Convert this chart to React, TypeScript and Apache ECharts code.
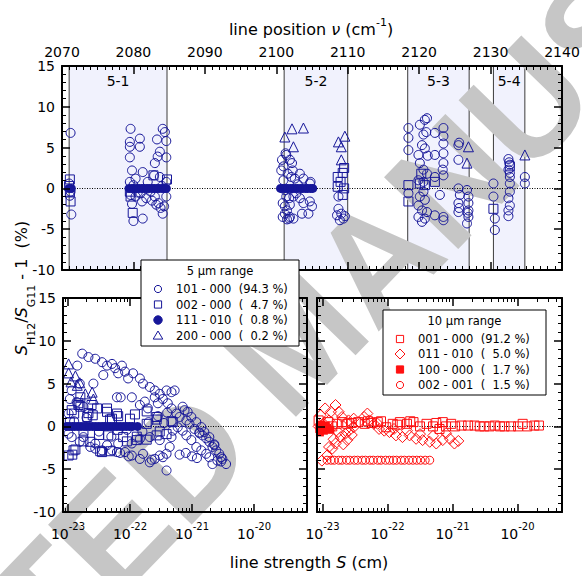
import React, { useEffect, useRef } from "react";
import * as echarts from "echarts";

const FONT = "DejaVu Sans";
const BLUE = "#161699";
const RED = "#ff1010";
const SHADE = "#f1f2fd";

// ---------- top panel: line position (cm-1) ----------
const positionMin = 2070;
const positionMax = 2140;
const lineRegions = [
  { name: "5-1", from: 2071.0, to: 2084.7 },
  { name: "5-2", from: 2101.1, to: 2110.0 },
  { name: "5-3", from: 2118.4, to: 2127.0 },
  { name: "5-4", from: 2130.4, to: 2134.8 },
];

const top101_000: [number, number][] = [
  [2071.2, 6.8], [2071.3, -3.2], [2071.1, -0.9], [2071.0, 0.6], [2071.2, -0.4],
  [2079.6, 7.3], [2079.5, 5.7], [2079.5, 5.1], [2080.9, 6.1], [2080.9, 5.1], [2079.5, 3.8],
  [2079.8, 2.2], [2081.3, 2.0], [2080.3, 1.2], [2079.5, 0.8], [2080.0, 0.4], [2080.6, -0.5],
  [2079.6, -0.8], [2080.3, -1.0], [2079.8, -1.9], [2081.2, -1.6], [2080.0, -4.0], [2081.3, -3.7],
  [2082.0, 0.8], [2082.4, -0.4], [2082.9, 1.6], [2083.0, 3.1], [2083.4, 3.9], [2083.7, 4.5],
  [2083.3, 6.0], [2084.1, 7.3], [2084.4, 6.9], [2084.6, 5.8], [2084.6, 3.8], [2083.7, 1.4],
  [2084.6, 0.8], [2084.0, 0.3], [2083.0, -1.0], [2083.2, -2.0], [2083.5, -1.8], [2083.8, -2.4],
  [2084.1, -3.1], [2084.6, -1.0], [2084.3, -2.2], [2082.6, -1.5], [2081.8, -1.2], [2081.0, -0.6],
  [2100.8, 3.5], [2101.0, 2.7], [2101.0, 1.0], [2101.3, 4.3], [2101.2, -0.2], [2101.8, -1.2],
  [2100.9, -1.8], [2101.5, -2.7], [2100.9, -3.5], [2101.8, -3.7], [2102.4, -3.7], [2102.2, 3.1],
  [2101.4, 4.1], [2101.9, 3.5], [2102.3, 2.2], [2102.1, 1.4], [2102.6, 1.2], [2103.3, 1.8],
  [2103.8, 1.2], [2104.7, 0.6], [2101.4, -1.0], [2102.4, -1.0], [2101.2, -2.2], [2101.9, -2.0],
  [2103.3, -1.2], [2103.8, -1.8], [2104.7, -1.6], [2104.5, -3.1], [2103.6, -3.1], [2101.2, -3.1],
  [2101.9, -3.5], [2101.5, -3.8], [2104.8, 0.8], [2105.0, -2.2], [2102.8, -0.6], [2103.0, 0.5],
  [2100.7, 2.2], [2101.6, 1.8],
  [2108.7, -1.0], [2108.7, -2.5], [2109.1, -3.1], [2109.4, -3.7], [2108.9, -3.9], [2108.5, -3.3],
  [2109.6, -3.4],
  [2118.5, 7.4], [2118.5, 6.2], [2118.5, 4.7], [2118.5, -0.6],
  [2120.1, 7.8], [2120.8, 8.4], [2121.1, 8.6], [2120.6, 6.6], [2120.4, 5.3], [2120.8, 4.9],
  [2119.9, 4.1], [2120.1, 3.1], [2120.6, 2.3], [2119.9, 1.0], [2121.1, 1.8], [2120.6, 0.8],
  [2120.1, -1.0], [2120.8, -1.4], [2119.9, -2.1], [2120.4, -2.7], [2121.1, -2.9], [2119.9, -3.5],
  [2120.4, -4.1], [2120.8, -3.7], [2120.6, -0.4], [2121.0, 6.9], [2121.2, 4.0],
  [2122.2, 6.8], [2123.4, 7.4], [2123.4, 6.4], [2123.4, 5.5], [2122.2, 4.1], [2123.4, 4.3],
  [2123.4, 3.1], [2123.4, 1.6], [2122.2, 1.4], [2122.9, -0.8], [2122.2, -3.3], [2123.4, -3.5],
  [2123.4, -3.9], [2123.3, 2.3],
  [2125.5, 5.3], [2125.5, 3.5], [2125.5, 0.0], [2125.7, -0.8], [2125.5, -1.8], [2125.5, -2.9],
  [2126.7, -0.2], [2126.9, -1.0], [2126.9, -1.8], [2126.9, -2.7], [2126.9, -3.5], [2126.7, -4.3],
  [2125.6, 5.6], [2125.6, -2.4], [2126.8, -3.0],
  [2130.4, 0.6], [2130.4, -1.0], [2130.6, -3.7], [2130.6, -5.1],
  [2132.5, 3.6], [2132.7, 2.9], [2132.5, 2.3], [2132.7, 1.4], [2132.7, 0.6], [2132.7, -0.4],
  [2132.5, -1.2], [2132.7, -2.1], [2132.5, -2.7], [2132.5, -3.4], [2132.6, 3.2], [2132.7, 1.9],
  [2134.8, 1.4], [2134.8, 0.6],
];

const top002_000: [number, number][] = [
  [2071.1, 1.1], [2071.0, 0.3], [2071.1, -0.4], [2071.2, -1.6],
  [2079.5, -0.4], [2079.6, -1.0], [2079.9, -3.0], [2082.8, 1.6], [2084.7, 1.1],
  [2108.6, 1.4], [2109.5, 2.5], [2108.6, 0.2], [2109.5, 0.0], [2109.3, -0.8], [2109.0, 0.8],
  [2109.3, 1.9],
  [2118.5, 0.4], [2118.5, -1.6], [2120.1, 0.6], [2120.8, 0.4], [2120.3, 1.8], [2122.2, 0.8],
  [2130.4, -2.5], [2132.7, 2.7],
];

const top111_010: [number, number][] = [
  [2071.0, 0], [2071.3, 0],
  [2079.4, 0], [2079.8, 0], [2080.1, 0], [2080.5, 0], [2080.8, 0], [2081.2, 0], [2081.5, 0],
  [2081.9, 0], [2082.2, 0], [2082.6, 0], [2082.9, 0], [2083.3, 0], [2083.6, 0], [2084.0, 0],
  [2084.3, 0], [2084.6, 0],
  [2100.6, 0], [2100.9, 0], [2101.3, 0], [2101.6, 0], [2102.0, 0], [2102.3, 0], [2102.7, 0],
  [2103.0, 0], [2103.4, 0], [2103.7, 0], [2104.1, 0], [2104.4, 0], [2104.8, 0], [2105.1, 0],
];

const top200_000: [number, number][] = [
  [2101.2, 6.3], [2102.2, 7.3], [2102.4, 5.1], [2103.8, 7.4],
  [2108.7, 5.7], [2109.6, 6.4], [2109.1, 5.1], [2109.1, 3.5],
  [2126.9, 5.1], [2126.7, 3.1], [2134.8, 4.1],
];

// ---------- bottom-left: 5 um range vs log10(line strength) ----------
const strengthExponents = [-23, -22, -21, -20];

const bl101_000: [number, number][] = [
  [-22.77, 8.5], [-22.67, 8.1], [-22.56, 7.9], [-22.45, 7.5], [-22.37, 7.1], [-22.29, 7.3],
  [-22.24, 6.8], [-22.13, 7.1], [-22.08, 6.4], [-22.03, 5.6], [-21.95, 6.2], [-21.84, 5.6],
  [-21.79, 5.0], [-21.68, 4.6], [-21.60, 4.2], [-21.52, 3.8], [-21.41, 4.2], [-21.33, 4.0],
  [-21.28, 4.2], [-22.85, 7.1], [-22.81, 5.0], [-22.59, 5.0], [-22.43, 6.0], [-22.19, 6.2],
  [-22.21, 3.4], [-22.15, 3.4], [-21.97, 3.4], [-21.84, 2.5], [-21.76, 2.9], [-21.71, 2.1],
  [-21.60, 3.4], [-21.55, 2.7], [-21.47, 3.2], [-21.39, 2.7], [-21.33, 2.1], [-21.25, 1.5],
  [-21.20, 1.1], [-21.12, 1.9], [-21.09, 0.7], [-21.04, 0.3], [-20.96, -0.3], [-20.88, -0.7],
  [-20.83, -1.05], [-20.77, -1.4], [-20.72, -1.8], [-20.67, -2.4], [-20.61, -2.8], [-20.56, -3.2],
  [-20.51, -3.8], [-20.45, -4.4], [-20.53, -4.1], [-20.59, -4.0], [-20.67, -4.4], [-20.72, -3.6],
  [-20.77, -3.2], [-20.85, -2.8], [-20.93, -2.4], [-21.01, -1.6], [-21.09, -1.05], [-21.15, -0.5],
  [-21.23, -0.1], [-21.31, -0.5], [-21.33, -1.25], [-21.36, -2.4], [-21.41, -3.2], [-21.47, -3.6],
  [-21.52, -3.4], [-21.60, -3.8], [-21.68, -4.2], [-21.79, -3.2], [-21.84, -3.8], [-21.97, -3.4],
  [-22.08, -3.0], [-22.21, -3.0], [-22.29, -2.8], [-22.45, -2.8], [-22.56, -2.6], [-22.64, -2.4],
  [-21.41, -5.15], [-20.53, -3.6], [-20.64, -2.2], [-20.72, -1.25], [-20.80, -0.66], [-20.85, -0.08],
  [-20.93, 0.5], [-21.01, 1.1], [-21.07, 1.7], [-21.15, 2.3],
  [-22.99, -0.86], [-22.94, -1.25], [-22.81, -1.8], [-22.75, -1.25], [-22.56, -2.0], [-22.37, -2.2],
  [-22.19, -2.0], [-21.97, -2.0], [-21.84, -1.45], [-21.68, -1.25], [-21.52, -1.6], [-22.97, 3.2],
  [-22.94, 4.2], [-22.86, 2.85], [-22.75, 2.3], [-22.99, 1.5], [-22.90, 0.6], [-22.70, 1.0],
  [-22.50, -0.6], [-22.30, -1.2], [-22.05, -0.4], [-21.80, -0.6], [-21.70, 0.5], [-21.45, 0.4],
  [-21.40, 1.6], [-21.55, 1.2], [-22.16, -3.1], [-22.02, -3.5], [-21.65, -3.9], [-21.20, -3.3],
  [-21.10, -3.1], [-21.00, -3.5], [-20.92, -3.7], [-20.88, -0.8], [-20.64, -2.1],
];

const bl002_000: [number, number][] = [
  [-22.99, -3.4], [-22.93, -3.3], [-22.91, -2.8], [-22.88, -2.7], [-22.83, 2.7], [-22.83, 2.5],
  [-22.80, 2.3], [-22.80, 3.4], [-22.69, 1.1], [-22.67, 1.55], [-22.75, -0.5], [-22.75, -1.75],
  [-22.64, -1.8], [-22.60, 1.3], [-22.53, 2.1], [-22.50, -1.0], [-22.48, -2.9], [-22.45, -3.0],
  [-22.37, 1.7], [-22.37, 2.1], [-22.35, -1.05], [-22.32, -2.9], [-22.32, 0.8], [-22.29, 0.9],
  [-22.21, 1.5], [-22.20, -0.4], [-22.19, 1.2], [-22.11, -1.25], [-22.05, -1.75], [-22.00, 0.9],
  [-21.92, 1.4], [-21.89, -1.2], [-21.89, -1.6], [-21.73, 0.3], [-21.73, -1.55], [-21.73, 1.75],
  [-21.57, -1.05], [-21.57, 0.8], [-21.57, 1.1], [-21.52, -0.6], [-21.41, -0.9], [-21.33, 0.6],
  [-21.31, 0.5], [-22.94, 1.9], [-22.90, 1.5], [-22.97, 0.5], [-22.62, 2.5],
];

const bl111_010: [number, number][] = [
  [-23.02, 0], [-22.98, 0], [-22.93, 0], [-22.89, 0], [-22.84, 0], [-22.79, 0], [-22.74, 0],
  [-22.70, 0], [-22.65, 0], [-22.60, 0], [-22.55, 0], [-22.50, 0], [-22.45, 0], [-22.41, 0],
  [-22.36, 0], [-22.31, 0], [-22.26, 0], [-22.21, 0], [-22.16, 0], [-22.11, 0], [-22.06, 0],
  [-22.01, 0], [-21.96, 0], [-21.88, 0],
];

const bl200_000: [number, number][] = [
  [-22.99, 7.3], [-22.99, 6.25], [-22.95, 5.2], [-22.88, 5.9], [-22.85, 4.8], [-22.81, 5.1],
  [-22.72, 3.8], [-22.61, 4.0], [-22.59, 3.2],
];

// ---------- bottom-right: 10 um range ----------
const br001_000: [number, number][] = [
  [-23.06, 0.7], [-22.98, -0.1], [-22.91, 0.5], [-22.85, 0.0], [-22.78, 0.3], [-22.70, 0.5],
  [-22.62, 0.3], [-22.55, 0.4], [-22.45, 0.5], [-22.35, 0.3], [-22.25, 0.4], [-22.15, 0.5],
  [-22.02, -0.1], [-21.92, 0.3], [-21.81, 0.5], [-21.70, 0.3], [-21.60, 0.5], [-21.50, 0.0],
  [-21.40, 0.3], [-21.30, 0.0], [-21.20, -0.3], [-21.10, 0.0], [-21.02, 0.3], [-20.96, 0.0],
  [-20.86, 0.1], [-20.76, 0.1], [-20.66, 0.1], [-20.58, 0.0], [-20.51, 0.0], [-20.43, 0.0],
  [-20.35, 0.1], [-20.27, 0.0], [-20.20, 0.0], [-20.10, 0.0], [-19.99, 0.0], [-19.92, 0.3],
  [-19.85, 0.0], [-19.74, 0.1], [-19.67, 0.1], [-21.25, 0.4], [-21.15, 0.5], [-21.65, 0.6],
  [-21.85, 0.2], [-22.10, 0.6], [-22.30, 0.6],
];

const br011_010: [number, number][] = [
  [-23.06, 0.0], [-23.03, 1.3], [-22.98, 0.3], [-22.96, 2.1], [-22.87, 1.7], [-22.80, 2.5],
  [-22.90, 0.7], [-22.75, 1.7], [-22.70, 1.1],
  [-23.01, -4.0], [-22.93, -3.4], [-22.85, -2.6], [-22.80, -2.0], [-22.72, -1.25], [-22.65, -0.86],
  [-22.59, -0.5], [-22.52, -0.1], [-22.44, 0.5], [-22.36, 1.1], [-22.31, 1.5],
  [-22.90, -2.4], [-22.83, -1.5], [-22.76, -0.66], [-22.68, -2.1], [-22.62, -1.6], [-22.55, -1.0],
  [-22.21, 0.3], [-22.13, -0.3], [-22.05, -0.5], [-21.97, -0.66], [-21.87, -1.05], [-21.77, -1.25],
  [-21.66, -1.05], [-21.56, -1.45], [-21.46, -1.6], [-21.35, -1.8], [-21.25, -2.0], [-21.15, -1.6],
  [-21.04, -1.45], [-20.97, -2.0], [-20.91, -1.7],
  [-22.52, 0.9], [-22.60, 0.7], [-22.28, 0.7], [-22.15, 0.3], [-21.90, -0.3], [-21.70, -0.5],
  [-21.50, -0.9], [-21.30, -1.1], [-21.10, -0.8],
];

const br100_000: [number, number][] = [
  [-23.05, -0.3], [-23.02, 0.2], [-22.98, -0.5], [-22.95, 0.1], [-22.92, -0.2], [-23.04, -0.7],
  [-22.88, -0.4],
];

const br002_001: [number, number][] = [
  [-22.93, -3.95], [-22.87, -3.95], [-22.82, -3.95], [-22.75, -3.95], [-22.70, -3.95],
  [-22.63, -3.95], [-22.58, -3.95], [-22.51, -3.95], [-22.46, -3.95], [-22.39, -3.95],
  [-22.34, -3.95], [-22.27, -3.95], [-22.22, -3.95], [-22.15, -3.95], [-22.10, -3.95],
  [-22.03, -3.95], [-21.97, -3.95], [-21.91, -3.95], [-21.86, -3.95], [-21.79, -3.95],
  [-21.74, -3.95], [-21.67, -3.95], [-21.61, -3.95], [-21.55, -3.95], [-21.49, -3.95],
  [-21.42, -3.95], [-21.35, -3.95],
];

// ---------- legends ----------
const legend5 = [
  { label: "101 - 000  (94.3 %)", kind: "circle" },
  { label: "002 - 000  (  4.7 %)", kind: "rect" },
  { label: "111 - 010  (  0.8 %)", kind: "dot" },
  { label: "200 - 000  (  0.2 %)", kind: "triangle" },
];
const legend10 = [
  { label: "001 - 000  (91.2 %)", kind: "rect" },
  { label: "011 - 010  (  5.0 %)", kind: "diamond" },
  { label: "100 - 000  (  1.7 %)", kind: "filledRect" },
  { label: "002 - 001  (  1.5 %)", kind: "circle" },
];

const blk = "#000";
const frameLine = { show: true, onZero: false, lineStyle: { color: blk, width: 2 } };
const hiddenLine = { show: false, onZero: false };
const majorTickStyle = { color: blk, width: 1.5 };
const minorTickStyle = { color: blk, width: 1 };
const tickFont = { color: blk, fontFamily: FONT, fontSize: 14 };

function linearX(grid: number, position: string, showLabel: boolean) {
  return {
    type: "value", gridIndex: grid, position, min: positionMin, max: positionMax, interval: 10, z: 5,
    axisLine: frameLine,
    axisTick: { show: true, inside: true, length: 8, lineStyle: majorTickStyle },
    minorTick: { show: true, splitNumber: 10, length: 4, lineStyle: minorTickStyle },
    axisLabel: showLabel ? { ...tickFont, margin: 7, formatter: (v: number) => String(v) } : { show: false },
    splitLine: { show: false }, minorSplitLine: { show: false },
  };
}

function percentY(grid: number, position: string, showLabel: boolean) {
  return {
    type: "value", gridIndex: grid, position, min: -10, max: 15, interval: 5, z: 5,
    axisLine: frameLine,
    axisTick: { show: true, inside: true, length: 8, lineStyle: majorTickStyle },
    minorTick: { show: true, splitNumber: 5, length: 4, lineStyle: minorTickStyle },
    axisLabel: showLabel ? { ...tickFont, margin: 7 } : { show: false },
    splitLine: { show: false }, minorSplitLine: { show: false },
  };
}

function logX(grid: number, min: number, max: number) {
  const majors: number[] = [];
  const minors: number[] = [];
  for (let n = Math.floor(min); n <= Math.ceil(max); n++) {
    if (n >= min && n <= max) majors.push(n);
    for (let k = 2; k <= 9; k++) {
      const v = n + Math.log10(k);
      if (v >= min && v <= max) minors.push(v);
    }
  }
  const base = { type: "value", gridIndex: grid, min, max, z: 5, splitLine: { show: false } };
  const label = {
    show: true, customValues: strengthExponents, margin: 9,
    formatter: (v: number) => `{b|10}{s|${Math.round(v)}}`,
    rich: {
      b: { fontFamily: FONT, fontSize: 14, color: blk, lineHeight: 20, verticalAlign: "bottom" },
      s: { fontFamily: FONT, fontSize: 10, color: blk, lineHeight: 10, verticalAlign: "top" },
    },
  };
  return [
    { ...base, position: "bottom", axisLine: frameLine,
      axisTick: { show: true, inside: true, length: 8, customValues: majors, lineStyle: majorTickStyle },
      axisLabel: label },
    { ...base, position: "bottom", axisLine: hiddenLine,
      axisTick: { show: true, inside: true, length: 4, customValues: minors, lineStyle: minorTickStyle },
      axisLabel: { show: false } },
    { ...base, position: "top", axisLine: frameLine,
      axisTick: { show: true, inside: true, length: 8, customValues: majors, lineStyle: majorTickStyle },
      axisLabel: { show: false } },
    { ...base, position: "top", axisLine: hiddenLine,
      axisTick: { show: true, inside: true, length: 4, customValues: minors, lineStyle: minorTickStyle },
      axisLabel: { show: false } },
  ];
}

function scatter(name: string, data: [number, number][], xi: number, yi: number,
  symbol: string, size: number, color: string, filled: boolean, extra: any = {}) {
  return {
    type: "scatter", name, data, xAxisIndex: xi, yAxisIndex: yi, symbol, symbolSize: size, z: 3,
    silent: true, emphasis: { disabled: true },
    itemStyle: filled ? { color, opacity: 1 }
      : { color: "rgba(0,0,0,0)", borderColor: color, borderWidth: 1, opacity: 1 },
    ...extra,
  };
}

const zeroLine = {
  silent: true, z: 2, symbol: ["none", "none"], label: { show: false },
  lineStyle: { color: blk, type: [1, 1.5], width: 1 },
  emphasis: { disabled: true },
  data: [{ yAxis: 0 }],
};

function legendMarker(kind: string, cx: number, cy: number, color: string) {
  const open = { fill: "none", stroke: color, lineWidth: 1 };
  const full = { fill: color, stroke: color, lineWidth: 1 };
  switch (kind) {
    case "circle": return { type: "circle", shape: { cx, cy, r: 3.6 }, style: open, z: 11 };
    case "dot": return { type: "circle", shape: { cx, cy, r: 4.2 }, style: full, z: 11 };
    case "rect": return { type: "rect", shape: { x: cx - 3.6, y: cy - 3.6, width: 7.2, height: 7.2 }, style: open, z: 11 };
    case "filledRect": return { type: "rect", shape: { x: cx - 3.6, y: cy - 3.6, width: 7.2, height: 7.2 }, style: full, z: 11 };
    case "triangle": return { type: "polygon", shape: { points: [[cx, cy - 4.5], [cx + 4.8, cy + 3.6], [cx - 4.8, cy + 3.6]] }, style: open, z: 11 };
    default: return { type: "polygon", shape: { points: [[cx, cy - 5], [cx + 5, cy], [cx, cy + 5], [cx - 5, cy]] }, style: open, z: 11 };
  }
}

function textEl(text: string, x: number, y: number, size: number, align = "left") {
  return {
    type: "text", x, y, z: 11, silent: true,
    style: { text, fill: blk, fontFamily: FONT, fontSize: size, align, verticalAlign: "middle",
      textAlign: align, textVerticalAlign: "middle" },
  };
}

function legendBox(title: string, items: { label: string; kind: string }[], color: string,
  box: { x: number; y: number; w: number; h: number }, titleY: number, rowYs: number[], markerX: number, textX: number) {
  const els: any[] = [
    { type: "rect", z: 10, silent: true, shape: { x: box.x, y: box.y, width: box.w, height: box.h },
      style: { fill: "#fff", stroke: blk, lineWidth: 1 } },
    textEl(title, box.x + box.w / 2, titleY, 11.5, "center"),
  ];
  items.forEach((it, i) => {
    els.push(legendMarker(it.kind, markerX, rowYs[i], color));
    els.push(textEl(it.label, textX, rowYs[i], 11.5));
  });
  return els;
}

export default function App() {
  const ref = useRef<HTMLDivElement>(null);
  useEffect(() => {
    if (!ref.current) return;
    const chart = echarts.init(ref.current, undefined, { renderer: "svg" });
    const blRange = [-23.08, -19.145];
    const brRange = [-23.085, -19.315];
    const option: any = {
      animation: false,
      backgroundColor: "#fff",
      grid: [
        { left: 62, top: 66, width: 500, height: 204, outerBoundsMode: "none" },
        { left: 63, top: 298, width: 244, height: 214, outerBoundsMode: "none" },
        { left: 317, top: 298, width: 245, height: 214, outerBoundsMode: "none" },
      ],
      xAxis: [
        linearX(0, "top", true),
        linearX(0, "bottom", false),
        ...logX(1, blRange[0], blRange[1]),
        ...logX(2, brRange[0], brRange[1]),
      ],
      yAxis: [
        percentY(0, "left", true),
        percentY(0, "right", false),
        percentY(1, "left", true),
        percentY(1, "right", false),
        percentY(2, "left", false),
        percentY(2, "right", false),
      ],
      series: [
        scatter("101 - 000", top101_000, 0, 0, "circle", 9, BLUE, false, {
          markArea: {
            silent: true, z: 1,
            itemStyle: { color: SHADE, borderColor: "#3c3c3c", borderWidth: 1 },
            label: { show: true, position: "insideTop", distance: 8, color: blk, fontFamily: FONT, fontSize: 14 },
            emphasis: { disabled: true },
            data: lineRegions.map((r) => [{ name: r.name, xAxis: r.from }, { xAxis: r.to }]),
          },
          markLine: zeroLine,
        }),
        scatter("002 - 000", top002_000, 0, 0, "rect", 9, BLUE, false),
        scatter("111 - 010", top111_010, 0, 0, "circle", 9, BLUE, true),
        scatter("200 - 000", top200_000, 0, 0, "triangle", 10, BLUE, false),

        scatter("101 - 000 S", bl101_000, 2, 2, "circle", 9, BLUE, false, { markLine: zeroLine }),
        scatter("002 - 000 S", bl002_000, 2, 2, "rect", 9, BLUE, false),
        scatter("111 - 010 S", bl111_010, 2, 2, "circle", 9, BLUE, true),
        scatter("200 - 000 S", bl200_000, 2, 2, "triangle", 10, BLUE, false),

        scatter("001 - 000", br001_000, 6, 4, "rect", 9, RED, false, { markLine: zeroLine }),
        scatter("011 - 010", br011_010, 6, 4, "diamond", 11, RED, false),
        scatter("100 - 000", br100_000, 6, 4, "rect", 8, RED, true),
        scatter("002 - 001", br002_001, 6, 4, "circle", 8, RED, false),
      ],
      graphic: {
        elements: [
          {
            type: "text", x: 298, y: 340, rotation: (46 * Math.PI) / 180, z: 1.5, silent: true,
            style: {
              text: "ACCEPTED MANUSCRIPT", fill: "#c6c6c6", fontFamily: "Liberation Sans",
              fontWeight: "bold", fontSize: 150, align: "center", verticalAlign: "middle",
              textAlign: "center", textVerticalAlign: "middle",
            },
          },
          {
            type: "text", x: 311, y: 27, z: 11, silent: true,
            style: {
              text: "{a|line position }{i|ν}{a| (cm}{s|-1}{a|)}", align: "center", verticalAlign: "middle",
              textAlign: "center", textVerticalAlign: "middle",
              rich: {
                a: { fontFamily: FONT, fontSize: 16, fill: blk, lineHeight: 20, verticalAlign: "bottom" },
                i: { fontFamily: FONT, fontSize: 16, fill: blk, fontStyle: "italic", lineHeight: 20, verticalAlign: "bottom" },
                s: { fontFamily: FONT, fontSize: 11, fill: blk, lineHeight: 11, verticalAlign: "top" },
              },
            },
          },
          {
            type: "text", x: 309, y: 562, z: 11, silent: true,
            style: {
              text: "{a|line strength }{i|S}{a| (cm)}", align: "center", verticalAlign: "middle",
              textAlign: "center", textVerticalAlign: "middle",
              rich: {
                a: { fontFamily: FONT, fontSize: 16, fill: blk },
                i: { fontFamily: FONT, fontSize: 16, fill: blk, fontStyle: "italic" },
              },
            },
          },
          {
            type: "text", x: 25, y: 288, rotation: Math.PI / 2, z: 11, silent: true,
            style: {
              text: "{i|S}{u|H12}{a|/}{i|S}{u|G11}{a| - 1  (%)}", align: "center", verticalAlign: "middle",
              textAlign: "center", textVerticalAlign: "middle",
              rich: {
                a: { fontFamily: FONT, fontSize: 16, fill: blk, lineHeight: 24, verticalAlign: "top" },
                i: { fontFamily: FONT, fontSize: 16, fill: blk, fontStyle: "italic", lineHeight: 24, verticalAlign: "top" },
                u: { fontFamily: FONT, fontSize: 11, fill: blk, lineHeight: 14, verticalAlign: "bottom" },
              },
            },
          },
          ...legendBox("5 µm range", legend5, BLUE, { x: 141, y: 260, w: 158, h: 86 }, 271,
            [289, 304.5, 320, 335.5], 158, 176),
          ...legendBox("10 µm range", legend10, RED, { x: 383, y: 310, w: 163, h: 85 }, 321,
            [339, 354, 369.5, 385], 400, 418),
        ],
      },
    };
    chart.setOption(option);
    return () => chart.dispose();
  }, []);
  return (
    <div
      ref={ref}
      style={{ position: "fixed", left: 0, top: 0, width: 582, height: 576, background: "#fff" }}
    />
  );
}
